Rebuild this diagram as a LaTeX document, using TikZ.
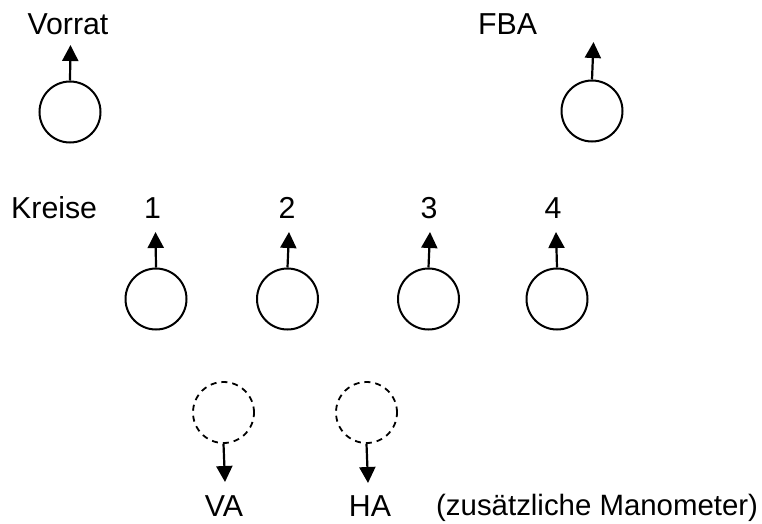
\documentclass[tikz,border=0pt]{standalone}
\usepackage{fontspec}
\setmainfont{Liberation Sans}
\usetikzlibrary{arrows.meta}
\begin{document}
\begin{tikzpicture}[x=1pt,y=-1pt,
  gauge/.style={circle, draw, line width=2pt, minimum size=61pt, inner sep=0pt},
  extragauge/.style={gauge, line width=1.8pt, dash pattern=on 6pt off 5pt},
  pipe/.style={line width=2.2pt, -{Triangle[width=16pt,length=16pt]}},
  lbl/.style={anchor=base, inner sep=0pt, font=\fontsize{30.3}{36}\selectfont},
  note/.style={anchor=base west, inner sep=0pt, font=\fontsize{29.4}{35}\selectfont}]
\useasboundingbox (0,0) rectangle (762,523);

% supply and brake booster
\node[gauge] (vorrat) at (70,112) {};
\node[gauge] (fba) at (592,111) {};
\coordinate (tvorrat) at (70.5,45);
\coordinate (tfba) at (593.5,42);
\draw[pipe] (vorrat.north) -- (tvorrat);
\draw[pipe] (fba.north) -- (tfba);
\node[lbl] (lvorrat) at (68,34) {Vorrat};
\node[lbl] (lfba) at (507.5,34) {FBA};

% brake circuits
\node[lbl, anchor=base west] (lkreise) at (11,218) {Kreise};
\foreach \i/\cx/\ax/\lx in {1/156/155.5/152.5, 2/287.5/289/287, 3/428.5/430/429, 4/557/556/553}{
  \node[gauge] (k\i) at (\cx,299) {};
  \coordinate (tk\i) at (\ax,232);
  \draw[pipe] (k\i.north) -- (tk\i);
  \node[lbl] (lk\i) at (\lx,218) {\i};
}

% additional gauges
\node[extragauge] (va) at (223.5,412.5) {};
\node[extragauge] (ha) at (366.5,412.5) {};
\coordinate (tva) at (225,482);
\coordinate (tha) at (368,483);
\draw[pipe] (va.south) -- (tva);
\draw[pipe] (ha.south) -- (tha);
\node[lbl] (lva) at (224,516) {VA};
\node[lbl] (lha) at (370,516) {HA};
\node[note] (lextra) at (436,515) {(zusätzliche Manometer)};
\end{tikzpicture}
\end{document}
